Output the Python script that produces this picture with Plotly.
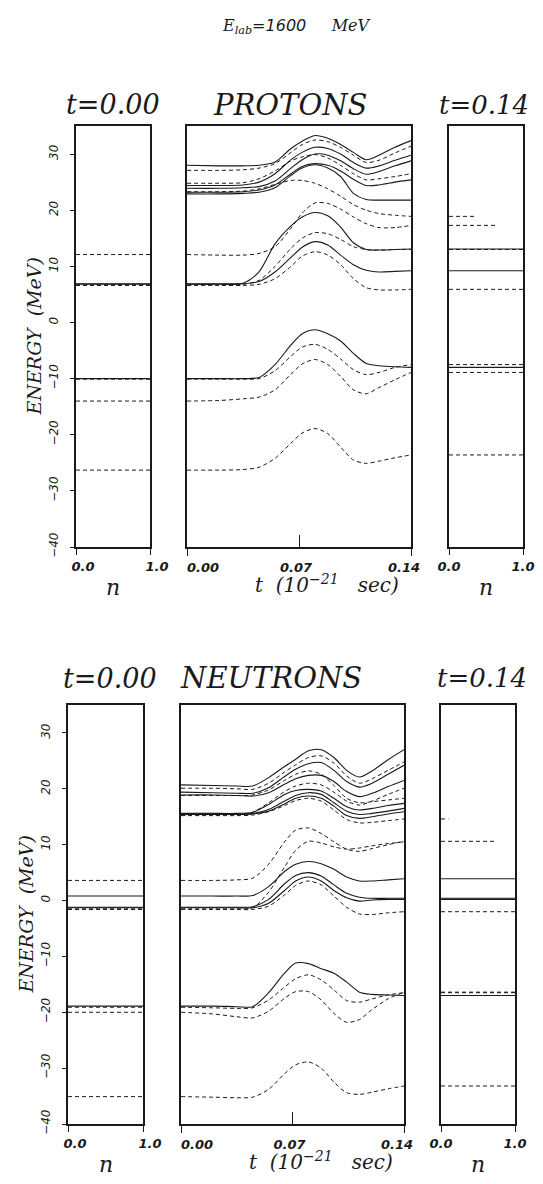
import plotly.graph_objects as go

# page geometry: the browser puts an 8px body margin around the figure
OFF = 8
W, H = 543 - 2 * OFF, 1184 - 2 * OFF
INK = "#1a1a1a"

# ---------------- data ----------------
T = [0.000, 0.020, 0.035, 0.045, 0.055, 0.065, 0.072, 0.080, 0.088, 0.096, 0.104, 0.112, 0.120, 0.130, 0.140]

N_TICKS = [0, 1]
N_TEXT = ["0.0", "1.0"]
T_TICKS = [0.0, 0.07, 0.14]
T_TEXT = ["0.00", "0.07", "0.14"]
E_TICKS = [-40, -30, -20, -10, 0, 10, 20, 30]
E_TEXT = ["\u221240", "\u221230", "\u221220", "\u221210", "0", "10", "20", "30"]

# protons: single-particle energies (MeV) at times T
p_u1 = [28.0, 27.9, 27.9, 28.0, 28.6, 31.0, 32.3, 33.3, 32.8, 31.7, 30.3, 29.0, 29.8, 31.2, 32.4]
p_u2 = [27.1, 27.1, 27.2, 27.5, 28.3, 30.3, 31.7, 32.5, 32.2, 31.2, 29.8, 28.5, 28.9, 30.2, 31.4]
p_u3 = [24.4, 24.4, 24.5, 25.0, 26.5, 29.0, 30.3, 31.2, 31.0, 30.0, 28.5, 27.5, 27.9, 28.9, 29.8]
p_u4 = [23.9, 23.9, 24.0, 24.2, 25.2, 27.5, 29.0, 30.0, 29.8, 28.8, 27.4, 26.4, 26.9, 27.9, 28.8]
p_u5 = [24.8, 24.8, 24.9, 25.6, 27.0, 28.8, 29.5, 29.9, 29.3, 28.0, 26.5, 25.4, 25.6, 26.0, 26.5]
p_u6 = [23.2, 23.2, 23.3, 23.6, 24.5, 26.5, 27.8, 28.3, 28.0, 27.0, 25.5, 24.4, 24.5, 25.0, 25.4]
p_u7 = [22.9, 22.9, 23.0, 23.2, 24.0, 26.2, 27.5, 28.1, 27.5, 26.0, 23.0, 21.9, 21.8, 21.8, 21.8]
p_u8 = [23.3, 23.3, 23.4, 23.8, 24.6, 25.3, 25.3, 24.8, 23.8, 22.5, 21.0, 20.0, 19.4, 19.1, 18.9]
p_b1 = [12.1, 12.0, 12.0, 12.3, 13.5, 16.8, 19.5, 21.3, 21.2, 20.2, 18.8, 17.6, 16.9, 16.9, 17.3]
p_b2 = [6.8, 6.8, 7.0, 9.0, 14.0, 17.2, 18.8, 19.6, 19.0, 17.0, 14.2, 13.0, 12.9, 13.0, 13.1]
p_b3 = [6.7, 6.7, 6.8, 7.5, 10.0, 13.2, 15.0, 16.0, 15.8, 14.8, 13.5, 13.0, 12.9, 13.0, 13.0]
p_b4 = [6.9, 6.9, 6.9, 7.3, 9.0, 11.6, 13.4, 14.4, 13.8, 12.0, 10.3, 9.3, 9.0, 9.1, 9.2]
p_b5 = [6.6, 6.6, 6.6, 6.8, 7.8, 10.0, 11.8, 12.6, 12.0, 10.3, 7.8, 6.2, 5.8, 5.8, 5.9]
p_l1 = [-10.0, -10.0, -10.0, -9.8, -7.5, -4.0, -2.0, -1.3, -2.0, -3.3, -5.5, -7.3, -7.7, -7.9, -8.0]
p_l2 = [-10.1, -10.1, -10.1, -10.0, -8.6, -6.0, -4.4, -3.9, -4.8, -6.5, -8.4, -9.3, -8.9, -8.0, -7.5]
p_l3 = [-14.0, -13.9, -13.6, -13.3, -12.0, -9.2, -7.4, -6.6, -7.5, -9.6, -12.0, -12.7, -11.6, -10.2, -8.9]
p_l4 = [-26.3, -26.3, -26.2, -25.8, -24.2, -21.5, -19.7, -18.9, -19.8, -22.2, -24.5, -25.1, -24.7, -24.1, -23.6]

proton_curves = [p_u1, p_u2, p_u3, p_u4, p_u5, p_u6, p_u7, p_u8,
                 p_b1, p_b2, p_b3, p_b4, p_b5, p_l1, p_l2, p_l3, p_l4]
proton_dashed = [False, True, False, False, True, False, False, True,
                 True, False, True, False, True, False, True, True, True]
proton_n_start = [0, 0, 0, 0, 0, 0, 0, 0, 1, 1, 1, 1, 1, 1, 1, 1, 1]
proton_n_end = [0, 0, 0, 0, 0, 0, 0, 0.36, 0.65, 1, 1, 1, 1, 1, 1, 1, 1]

# neutrons
n_u1 = [20.7, 20.6, 20.5, 20.5, 22.0, 24.0, 25.3, 26.8, 27.0, 25.6, 23.3, 22.1, 23.2, 25.2, 27.0]
n_u2 = [20.1, 20.1, 20.0, 19.9, 21.0, 23.0, 24.3, 25.6, 25.9, 24.6, 22.3, 21.0, 21.8, 23.3, 24.8]
n_u3 = [19.4, 19.3, 19.2, 19.2, 20.2, 22.2, 23.5, 24.5, 24.7, 23.3, 21.3, 20.3, 21.0, 22.6, 24.2]
n_u4 = [18.9, 18.9, 18.8, 18.7, 19.3, 20.8, 21.8, 22.4, 22.4, 21.3, 19.5, 18.6, 19.2, 20.4, 21.5]
n_u5 = [15.3, 15.3, 15.4, 15.8, 17.5, 19.5, 20.5, 21.0, 20.7, 19.4, 17.8, 17.1, 17.8, 19.0, 20.1]
n_u6 = [15.6, 15.6, 15.6, 15.8, 17.2, 19.0, 19.7, 19.9, 19.6, 18.3, 16.8, 16.2, 16.5, 17.0, 17.4]
n_u7 = [15.5, 15.5, 15.5, 15.6, 16.3, 17.8, 18.8, 19.3, 19.0, 17.5, 16.0, 15.4, 15.6, 16.0, 16.5]
n_u8 = [15.2, 15.2, 15.2, 15.3, 15.9, 17.0, 17.9, 18.3, 17.8, 16.2, 14.5, 13.9, 14.0, 14.3, 14.6]
n_u9 = [15.4, 15.4, 15.4, 15.5, 16.0, 17.3, 18.3, 18.7, 18.3, 16.9, 15.2, 14.7, 15.0, 15.5, 15.9]
n_u10 = [18.8, 18.8, 18.8, 18.9, 19.8, 21.5, 22.6, 23.2, 22.6, 20.6, 18.3, 17.5, 17.7, 18.0, 18.3]
n_b1 = [3.6, 3.6, 3.7, 4.0, 6.5, 10.5, 12.6, 13.0, 12.0, 10.5, 9.2, 8.8, 9.3, 10.0, 10.6]
n_b2 = [-1.5, -1.5, -1.5, -1.3, 1.5, 6.0, 9.0, 10.6, 10.3, 9.6, 9.2, 9.4, 9.8, 10.2, 10.5]
n_s1 = [0.8, 0.8, 0.8, 0.9, 2.5, 5.2, 6.5, 7.0, 6.6, 5.6, 4.2, 3.5, 3.5, 3.7, 3.9]
n_s2 = [-1.2, -1.2, -1.2, -1.1, 0.2, 3.0, 4.5, 5.0, 4.4, 2.8, 1.3, 0.6, 0.4, 0.4, 0.4]
n_s3 = [-1.3, -1.3, -1.3, -1.3, -0.5, 1.8, 3.5, 4.2, 3.5, 1.8, 0.5, -0.1, 0.1, 0.2, 0.2]
n_b3 = [-1.6, -1.6, -1.6, -1.6, -1.0, 1.0, 2.7, 3.5, 2.8, 0.8, -1.2, -2.4, -2.5, -2.2, -2.0]
n_l1 = [-18.9, -18.9, -19.0, -19.0, -16.5, -13.0, -11.2, -11.3, -12.2, -13.0, -14.6, -16.4, -16.8, -16.9, -17.0]
n_l2 = [-19.1, -19.2, -19.3, -19.2, -17.8, -15.5, -14.0, -13.3, -14.2, -16.0, -17.9, -18.2, -17.6, -16.9, -16.5]
n_l3 = [-20.0, -20.3, -20.8, -21.0, -19.8, -17.5, -16.3, -16.3, -17.8, -20.2, -21.8, -21.3, -19.5, -17.6, -16.4]
n_l4 = [-35.1, -35.2, -35.3, -35.2, -33.8, -31.0, -29.4, -28.9, -30.0, -32.5, -34.4, -34.7, -34.3, -33.7, -33.2]

neutron_curves = [n_u1, n_u2, n_u3, n_u4, n_u5, n_u6, n_u7, n_u8, n_u9, n_u10,
                  n_b1, n_b2, n_s1, n_s2, n_s3, n_b3, n_l1, n_l2, n_l3, n_l4]
neutron_dashed = [False, True, False, False, True, False, False, True, False, True,
                  True, True, False, False, False, True, False, True, True, True]
neutron_n_start = [0, 0, 0, 0, 0, 0, 0, 0, 0, 0, 1, 1, 1, 1, 1, 1, 1, 1, 1, 1]
neutron_n_end = [0, 0, 0, 0, 0, 0, 0, 0.1, 0, 0, 0.75, 0, 1, 1, 1, 1, 1, 1, 1, 1]

# ---------------- figure ----------------
fig = go.Figure()

def px_x(a, b):
    return [(a - OFF) / W, (b - OFF) / W]

def px_y(top, bot):
    return [1 - (bot - OFF) / H, 1 - (top - OFF) / H]

# panel boxes in page pixels
ROWS = {
    "top": dict(y=(126, 547), left=(76, 150), mid=(187, 411), right=(449, 523)),
    "bot": dict(y=(705, 1124), left=(68, 143), mid=(181, 404), right=(441, 515)),
}

def style(dashed):
    if dashed:
        return dict(color=INK, width=1.0, dash="4px,3px")
    return dict(color=INK, width=1.1)

def add_row(curves, dashed, n0, n1, ax, extra_x):
    xl, yl, xm, ym, xr, yr = ax
    nc = len(curves)
    for j, (c, d, a, b) in enumerate(zip(curves, dashed, n0, n1)):
        xuse = xm
        if j == nc - 1:
            xuse = extra_x[1]
        elif j == nc - 2:
            xuse = extra_x[0]
        fig.add_trace(go.Scatter(x=T, y=c, mode="lines",
                                 line=dict(shape="spline", smoothing=0.8, **style(d)),
                                 xaxis=xuse, yaxis=ym, showlegend=False, hoverinfo="skip"))
        if a > 0:
            fig.add_trace(go.Scatter(x=[0, a], y=[c[0], c[0]], mode="lines", line=style(d),
                                     xaxis=xl, yaxis=yl, showlegend=False, hoverinfo="skip"))
        if b > 0:
            fig.add_trace(go.Scatter(x=[0, b], y=[c[-1], c[-1]], mode="lines", line=style(d),
                                     xaxis=xr, yaxis=yr, showlegend=False, hoverinfo="skip"))

add_row(proton_curves, proton_dashed, proton_n_start, proton_n_end,
        ("x", "y", "x2", "y2", "x3", "y3"), ("x7", "x8"))
add_row(neutron_curves, neutron_dashed, neutron_n_start, neutron_n_end,
        ("x4", "y4", "x5", "y5", "x6", "y6"), ("x9", "x10"))

frame = dict(showline=True, mirror=True, linecolor=INK, linewidth=2, showgrid=False,
             zeroline=False, automargin=False, fixedrange=True)
bare = dict(showline=False, showgrid=False, zeroline=False, automargin=False, fixedrange=True)
xtickfont = dict(family="DejaVu Sans", size=13, color=INK, weight="bold", style="italic")
ytickfont = dict(family="DejaVu Sans", size=12, color=INK, style="italic")

layout = dict(width=W, height=H, margin=dict(l=0, r=0, t=0, b=0, autoexpand=False),
              paper_bgcolor="white", plot_bgcolor="white", showlegend=False)

extra_names = {0: (7, 8), 1: (9, 10)}
for ri, row in enumerate(["top", "bot"]):
    g = ROWS[row]
    base = ri * 3
    ydom = px_y(*g["y"])
    for k, key in enumerate(["left", "mid", "right"]):
        i = base + k + 1
        sx = "" if i == 1 else str(i)
        xa = dict(frame, domain=px_x(*g[key]), anchor=f"y{sx}")
        ya = dict(frame, domain=ydom, anchor=f"x{sx}", range=[-40, 35])
        if key == "mid":
            # main time axis carries the inward tick at 0.07
            xa.update(range=[0, 0.14], tickmode="array", tickvals=[T_TICKS[1]], ticktext=[T_TEXT[1]],
                      ticks="inside", ticklen=12, tickwidth=1.2, tickcolor=INK, tickfont=xtickfont,
                      ticklabelstandoff=7, ticklabelshift=-3)
            # overlay axes carry the outward end ticks 0.00 and 0.14
            a0, a1 = extra_names[ri]
            for num, tv, tt, shift in ((a0, T_TICKS[0], T_TEXT[0], 16), (a1, T_TICKS[2], T_TEXT[2], -7)):
                layout[f"xaxis{num}"] = dict(bare, overlaying=f"x{i}", anchor=f"y{i}", side="bottom",
                                             range=[0, 0.14], tickmode="array", tickvals=[tv],
                                             ticktext=[tt], ticks="outside", ticklen=8, tickwidth=1.2,
                                             tickcolor=INK, tickfont=xtickfont, ticklabelshift=shift)
        else:
            xa.update(range=[0, 1], tickmode="array", tickvals=N_TICKS, ticktext=N_TEXT,
                      ticks="outside", ticklen=6, tickwidth=1.2, tickcolor=INK, tickfont=xtickfont,
                      ticklabelshift=7 if key == "left" else 0, ticklabeloverflow="allow")
        if key == "left":
            ya.update(tickmode="array", tickvals=E_TICKS, ticktext=E_TEXT, ticks="outside",
                      ticklen=4, tickwidth=1, tickcolor=INK, tickangle=-90, tickfont=ytickfont,
                      ticklabelstandoff=7)
        else:
            ya.update(showticklabels=False, ticks="")
        layout["xaxis" if i == 1 else f"xaxis{i}"] = xa
        layout["yaxis" if i == 1 else f"yaxis{i}"] = ya

SERIF = "DejaVu Serif"
NB = "\u00a0"

def ann(text, x, y, size, angle=0, family=SERIF):
    return dict(text=text, x=(x - OFF) / W, y=1 - (y - OFF) / H, xref="paper", yref="paper",
                xanchor="center", yanchor="middle", showarrow=False, textangle=angle,
                font=dict(family=family, size=size, color=INK, style="italic"))

annotations = [
    ann("E<sub>lab</sub><span style='font-family:DejaVu Sans'>=1600</span>" + NB * 5 + "MeV", 296, 27, 16),
    ann("t=0.00", 113, 105, 27),
    ann("PROTONS", 290, 105, 29),
    ann("t=0.14", 484, 105, 26),
    ann("t=0.00", 110, 678, 27),
    ann("NEUTRONS", 271, 678, 29),
    ann("t=0.14", 482, 678, 26),
]
for row in ["top", "bot"]:
    g = ROWS[row]
    top, bot = g["y"]
    cy = (top + bot) / 2
    annotations.append(ann("ENERGY" + NB * 2 + "(MeV)", g["left"][0] - 43, cy, 19, angle=-90))
    for key in ["left", "right"]:
        annotations.append(ann("n", sum(g[key]) / 2, bot + 40, 22))
    annotations.append(ann("t" + NB * 2 + "(10<sup>\u221221</sup>" + NB * 3 + "sec)",
                           g["mid"][0] + 140, bot + 37, 20))
layout["annotations"] = annotations

fig.update_layout(**layout)
fig.write_html("out.html")
